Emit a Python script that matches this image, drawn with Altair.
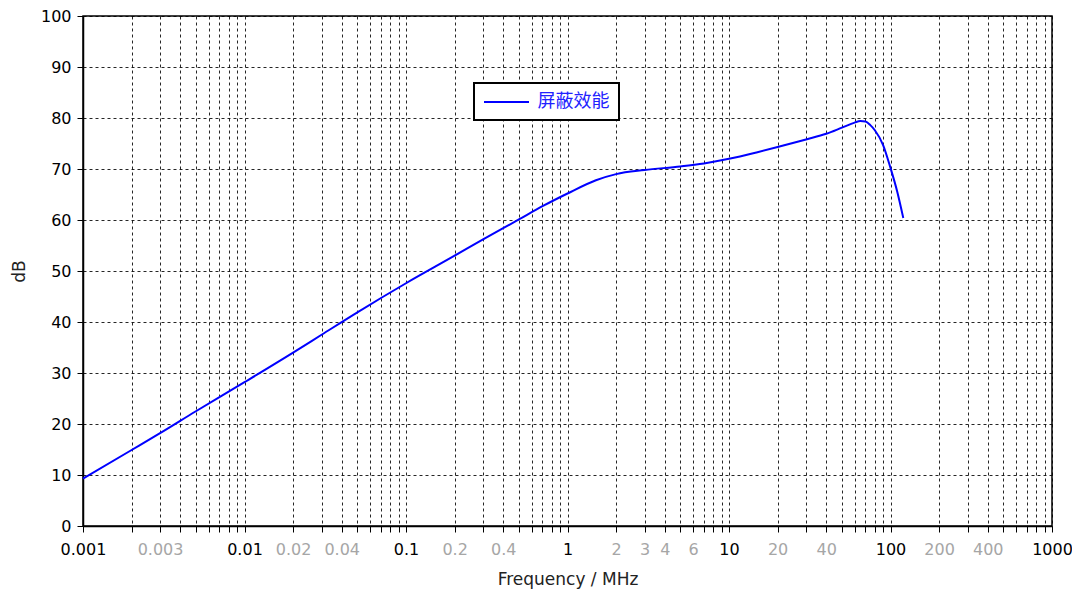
import altair as alt
import pandas as pd

# ---- data ----
freq_mhz = [0.001, 0.002, 0.003, 0.005, 0.01, 0.02, 0.03, 0.05, 0.1, 0.2, 0.3, 0.5,
            0.7, 1, 1.5, 2, 3, 5, 7, 10, 15, 20, 30, 40, 50, 60, 65, 70, 75, 80,
            90, 100, 110, 120]
shielding_db = [9.3, 14.9, 18.2, 22.5, 28.2, 34.0, 37.5, 41.9, 47.6, 53.0, 56.2, 60.1,
                62.7, 65.2, 67.8, 69.0, 69.8, 70.5, 71.1, 72.0, 73.3, 74.3, 75.8, 76.9,
                78.1, 79.1, 79.4, 79.3, 78.6, 77.6, 74.7, 70.2, 65.6, 60.4]
series_name = "屏蔽效能"

x_label_values = [0.001, 0.003, 0.01, 0.02, 0.04, 0.1, 0.2, 0.4, 1, 2, 3, 4, 6,
                  10, 20, 40, 100, 200, 400, 1000]
y_tick_values = [0, 10, 20, 30, 40, 50, 60, 70, 80, 90, 100]
x_grid_values = [float(f"{m}e{e}") for e in range(-3, 3) for m in range(1, 10)] + [1000.0]

df = pd.DataFrame({"f": freq_mhz, "db": shielding_db,
                   "series": [series_name] * len(freq_mhz)})

label_strs = "[" + ",".join(f"'{format(v, 'g')}'" for v in x_label_values) + "]"
label_expr = f"indexof({label_strs}, datum.label) >= 0 ? datum.label : ''"
decade_test = "abs(log(datum.value)/LN10 - round(log(datum.value)/LN10)) < 0.001"

x_axis = alt.Axis(
    values=x_grid_values,
    format="~g",
    labelExpr=label_expr,
    labelOverlap=False,
    labelFlush=False,
    labelBound=False,
    labelColor={"condition": {"test": decade_test, "value": "#000000"}, "value": "#a6a6a6"},
    title="Frequency / MHz",
    titlePadding=14,
    labelPadding=9,
)
y_axis = alt.Axis(
    values=y_tick_values,
    title="dB",
    titlePadding=12,
    labelPadding=6,
)

chart = alt.Chart(df).mark_line(strokeWidth=2, interpolate="monotone").encode(
    x=alt.X("f:Q", scale=alt.Scale(type="log", domain=[0.001, 1000], nice=False), axis=x_axis),
    y=alt.Y("db:Q", scale=alt.Scale(domain=[0, 100], nice=False), axis=y_axis),
    color=alt.Color("series:N", scale=alt.Scale(range=["#0000ff"]),
                    legend=alt.Legend(title=None, orient="none", legendX=391, legendY=67,
                                      symbolType="M-2.5,0H2.5", symbolSize=324,
                                      symbolStrokeWidth=2, symbolOffset=13.5,
                                      labelOffset=21, symbolFillColor="transparent",
                                      labelColor="#2222ff", labelFont="Noto Sans CJK SC",
                                      labelFontSize=18, strokeColor="#000000",
                                      fillColor="#ffffff", padding=9)),
).properties(
    width=969,
    height=510,
    autosize=alt.AutoSizeParams(type="none"),
    padding={"left": 75, "top": 8, "right": 20, "bottom": 64},
).configure_view(
    stroke="#000000", strokeWidth=1.5
).configure_axis(
    labelFont="DejaVu Sans", labelFontSize=16, labelColor="#000000",
    titleFont="DejaVu Sans", titleFontSize=17, titleFontWeight="normal", titleColor="#222222",
    domainColor="#000000", domainWidth=1.5,
    tickColor="#000000", tickSize=6, tickWidth=1,
    grid=True, gridColor="#000000", gridDash=[3, 3], gridWidth=1, gridOpacity=0.85,
).configure_legend(
    strokeWidth=2, cornerRadius=0
)

chart.save("out.html", embed_options={"renderer": "svg", "actions": False})
